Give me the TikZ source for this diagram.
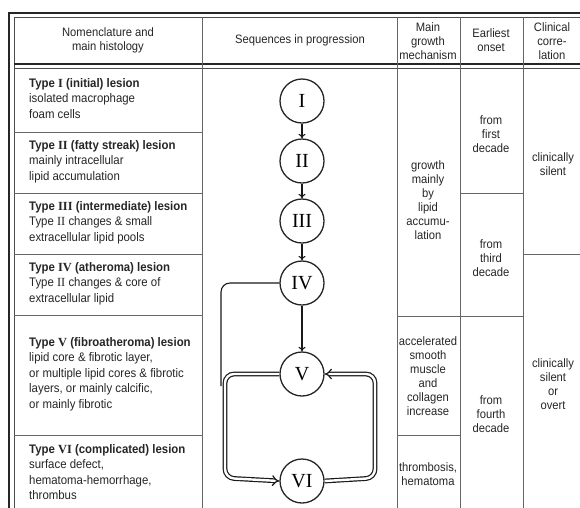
\documentclass[tikz,border=0pt]{standalone}
\usepackage{fontspec}
\setmainfont[FakeStretch=0.92]{Liberation Sans}
\newfontfamily\romfont{Liberation Serif}
\usetikzlibrary{arrows.meta}

\tikzset{
  stage/.style={circle,draw=black!85,line width=1.3pt,minimum size=44pt,inner sep=0pt,
    font=\romfont\fontsize{20}{20}\selectfont},
  lesion/.style={anchor=north west,align=left,inner sep=0pt,text=black!85,
    font=\fontsize{12.4}{15.5}\selectfont},
  cell/.style={align=center,inner sep=0pt,text=black!85,
    font=\fontsize{12.2}{14}\selectfont},
  gridline/.style={black!60,line width=0.8pt},
  seq/.style={black!90,line width=1.1pt,-{To[length=4.5pt,width=7pt]}},
  dbl/.style={black!90,double,double distance=2.4pt,line width=1.2pt,rounded corners=9pt}
}
\newcommand{\rn}[1]{{\romfont\bfseries #1}}

\begin{document}
\begin{tikzpicture}[x=1pt,y=-1pt]
\useasboundingbox (0,0) rectangle (580,507);
\fill[white] (0,0) rectangle (580,507);

% frame
\draw[black!85,line width=1.6pt] (9,510) -- (9,13) -- (582,13);
\draw[black!70,line width=0.6pt] (14,510) -- (14,17) -- (582,17);
\draw[black!85,line width=1.4pt] (14,64) -- (582,64);
\draw[black!70,line width=0.6pt] (14,68) -- (582,68);

% columns
\draw[gridline] (202,17) -- (202,510);
\draw[gridline] (397,17) -- (397,510);
\draw[gridline] (460,17) -- (460,510);
\draw[gridline] (523,17) -- (523,510);

% rows
\foreach \y in {132,193,254,315,435} \draw[gridline] (14,\y) -- (202,\y);
\draw[gridline] (397,316) -- (460,316);
\draw[gridline] (397,435) -- (460,435);
\draw[gridline] (460,193) -- (523,193);
\draw[gridline] (460,316) -- (523,316);
\draw[gridline] (523,254) -- (582,254);

% header
\node[cell] (hnom) at (108,40) {Nomenclature and\\main histology};
\node[cell] (hseq) at (300,40) {Sequences in progression};
\node[cell] (hmech) at (428,41) {Main\\growth\\mechanism};
\node[cell] (honset) at (491,40) {Earliest\\onset};
\node[cell] (hclin) at (552,41) {Clinical\\corre-\\lation};

% lesion types
\node[lesion] (t1) at (29,78) {\textbf{Type \rn{I} (initial) lesion}\\isolated macrophage\\foam cells};
\node[lesion] (t2) at (29,140) {\textbf{Type \rn{II} (fatty streak) lesion}\\mainly intracellular\\lipid accumulation};
\node[lesion] (t3) at (29,201) {\textbf{Type \rn{III} (intermediate) lesion}\\Type {\romfont II} changes \& small\\extracellular lipid pools};
\node[lesion] (t4) at (29,262) {\textbf{Type \rn{IV} (atheroma) lesion}\\Type {\romfont II} changes \& core of\\extracellular lipid};
\node[lesion] (t5) at (29,337) {\textbf{Type \rn{V} (fibroatheroma) lesion}\\lipid core \& fibrotic layer,\\or multiple lipid cores \& fibrotic\\layers, or mainly calcific,\\or mainly fibrotic};
\node[lesion] (t6) at (29,444) {\textbf{Type \rn{VI} (complicated) lesion}\\surface defect,\\hematoma-hemorrhage,\\thrombus};

% sequences
\node[stage] (s1) at (302,101) {I};
\node[stage] (s2) at (302,161) {II};
\node[stage] (s3) at (302,221) {III};
\node[stage] (s4) at (302,283) {IV};
\node[stage] (s5) at (302,374) {V};
\node[stage] (s6) at (302,481) {VI};

\draw[seq] (s1) -- (s2);
\draw[seq] (s2) -- (s3);
\draw[seq] (s3) -- (s4);
\draw[seq] (s4) -- (s5);

\draw[black!90,line width=1.1pt,rounded corners=9pt] (s4.west) -- (221,283) -- (221,386);
\draw[dbl,-{Implies}] (s5.west) -- (225,374) -- (225,478) -- (s6.west);
\draw[dbl,-{Implies}] (s6.east) -- (375,478) -- (375,374) -- (s5.east);

% growth mechanism
\node[cell] (m1) at (428,200) {growth\\mainly\\by\\lipid\\accumu-\\lation};
\node[cell] (m2) at (428,376) {accelerated\\smooth\\muscle\\and\\collagen\\increase};
\node[cell] (m3) at (428,474) {thrombosis,\\hematoma};

% onset
\node[cell] (o1) at (491,134) {from\\first\\decade};
\node[cell] (o2) at (491,258) {from\\third\\decade};
\node[cell] (o3) at (491,414) {from\\fourth\\decade};

% clinical
\node[cell] (c1) at (553,164) {clinically\\silent};
\node[cell] (c2) at (553,384) {clinically\\silent\\or\\overt};
\end{tikzpicture}
\end{document}
